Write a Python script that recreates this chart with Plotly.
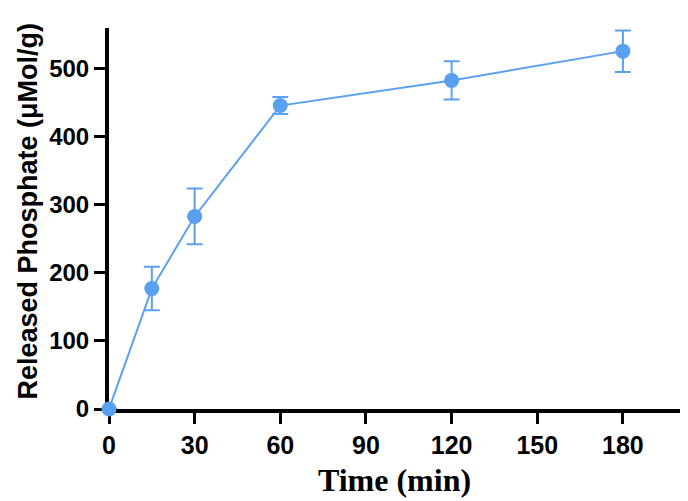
import plotly.graph_objects as go

time_min = [0, 15, 30, 60, 120, 180]
phosphate = [0, 177, 283, 446, 483, 526]
err = [0, 32, 41, 12.5, 28, 30.5]

x_ticks = [0, 30, 60, 90, 120, 150, 180]
y_ticks = [0, 100, 200, 300, 400, 500]

x_title = "Time (min)"
y_title = "Released Phosphate (μMol/g)"

blue = "#5aa0f0"

fig = go.Figure()
fig.add_trace(go.Scatter(
    x=time_min, y=phosphate,
    mode="lines+markers",
    line=dict(color=blue, width=2),
    marker=dict(color=blue, size=15),
    error_y=dict(type="data", array=err, visible=True, color=blue, thickness=2, width=8),
    cliponaxis=False,
    showlegend=False,
))

# page body has an 8px margin, so the figure is offset by (8, 8)
fig.update_layout(
    width=680, height=493,
    margin=dict(l=101, r=8, t=20, b=92, autoexpand=False),
    paper_bgcolor="white", plot_bgcolor="white",
    xaxis=dict(
        range=[0, 200], tickvals=x_ticks, ticktext=[str(v) for v in x_ticks],
        showgrid=False, zeroline=False, automargin=False,
        showline=True, linecolor="black", linewidth=4,
        ticks="outside", ticklen=11, tickwidth=3, tickcolor="black",
        tickfont=dict(family="Liberation Sans", size=25, color="black", weight="bold"),
        layer="below traces",
        title=dict(text=x_title, font=dict(family="Liberation Serif", size=32, color="black", weight="bold"), standoff=12),
    ),
    yaxis=dict(
        range=[0, 560], tickvals=y_ticks, ticktext=[str(v) for v in y_ticks],
        showgrid=False, zeroline=False, automargin=False,
        showline=True, linecolor="black", linewidth=4,
        ticks="outside", ticklen=11, tickwidth=3, tickcolor="black",
        tickfont=dict(family="Liberation Sans", size=24, color="black", weight="bold"),
        layer="below traces",
    ),
    annotations=[dict(
        text=y_title, textangle=-90,
        xref="paper", yref="paper", x=0, y=0.5,
        xanchor="center", yanchor="middle",
        xshift=-82, yshift=7,
        showarrow=False,
        font=dict(family="Liberation Sans", size=27, color="black", weight="bold"),
    )],
)

fig.write_html("out.html")
